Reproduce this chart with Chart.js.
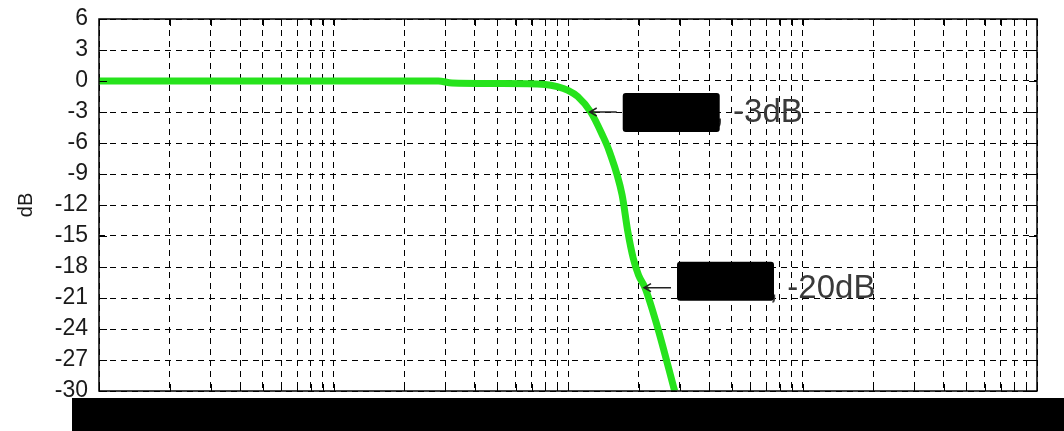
<!DOCTYPE html>
<html>
<head>
<meta charset="utf-8">
<script src="https://cdn.jsdelivr.net/npm/chart.js@4.4.1/dist/chart.umd.min.js"></script>
<style>
  html, body { margin: 0; padding: 0; background: #fff; }
  #wrap { width: 1064px; height: 431px; position: relative; }
</style>
</head>
<body>
<div id="wrap"><canvas id="c" width="1064" height="431"></canvas></div>
<script>
// Low-pass magnitude response: frequency (Hz) and gain (dB)
const freqHz = [10, 100, 280, 320, 500, 800, 900, 1000, 1100, 1250, 1400, 1500, 1700, 1800, 1900, 2000, 2130, 2400, 2850];
const gainDb = [0, 0, 0, -0.2, -0.25, -0.35, -0.55, -0.9, -1.5, -3, -5.2, -6.8, -11, -14.6, -17.2, -18.8, -20, -23.7, -30];

// Axis ticks
const yTicks = [6, 3, 0, -3, -6, -9, -12, -15, -18, -21, -24, -27, -30];
const freqGrid = [
  10, 20, 30, 40, 50, 60, 70, 80, 90,
  100, 200, 300, 400, 500, 600, 700, 800, 900,
  1000, 2000, 3000, 4000, 5000, 6000, 7000, 8000, 9000,
  10000, 20000, 30000, 40000, 50000, 60000, 70000, 80000, 90000,
  100000
];

// Marked points on the response
const noteFreq = [1250, 2130];
const noteDb = [-3, -20];
const noteText = [', -3dB', ', -20dB'];

const FONT = "'Liberation Sans', Arial, sans-serif";

const frame = {
  id: 'frame',
  afterDatasetsDraw(chart) {
    const { ctx, chartArea: a } = chart;
    const xs = chart.scales.x, ys = chart.scales.y;
    ctx.save();
    ctx.strokeStyle = '#000';
    ctx.lineWidth = 1;
    ctx.setLineDash([]);
    // inward tick marks on all four sides
    ctx.beginPath();
    freqGrid.forEach(v => {
      const px = Math.round(xs.getPixelForValue(v)) + 0.5;
      ctx.moveTo(px, a.top); ctx.lineTo(px, a.top + 7);
      ctx.moveTo(px, a.bottom); ctx.lineTo(px, a.bottom - 7);
    });
    yTicks.forEach(v => {
      const py = Math.round(ys.getPixelForValue(v)) + 0.5;
      ctx.moveTo(a.left, py); ctx.lineTo(a.left + 8, py);
      ctx.moveTo(a.right, py); ctx.lineTo(a.right - 8, py);
    });
    ctx.stroke();
    // axes box
    ctx.lineWidth = 1.5;
    ctx.strokeRect(a.left, a.top, a.right - a.left, a.bottom - a.top);
    ctx.restore();
  },
  afterDraw(chart) {
    const { ctx } = chart;
    const xs = chart.scales.x, ys = chart.scales.y;
    const boxDy = [-19, -26];
    ctx.save();
    noteFreq.forEach((f, i) => {
      const tx = xs.getPixelForValue(f) - 1;
      const ty = ys.getPixelForValue(noteDb[i]);
      // arrow pointing at the curve
      ctx.strokeStyle = '#222';
      ctx.lineWidth = 1.5;
      ctx.beginPath();
      ctx.moveTo(tx, ty); ctx.lineTo(tx + 27, ty);
      ctx.moveTo(tx + 7, ty - 4); ctx.lineTo(tx, ty); ctx.lineTo(tx + 7, ty + 4);
      ctx.stroke();
      // label
      ctx.fillStyle = '#3a3a3a';
      ctx.font = '33px ' + FONT;
      ctx.textBaseline = 'alphabetic';
      ctx.textAlign = 'left';
      ctx.fillText(noteText[i], tx + 125, ty + 10);
      // blacked-out frequency value
      ctx.fillStyle = '#000';
      ctx.beginPath();
      ctx.roundRect(tx + 33, ty + boxDy[i], 97, 39, 3);
      ctx.fill();
    });
    // blacked-out frequency axis
    ctx.fillStyle = '#000';
    ctx.fillRect(72, 398, 1064 - 72, 431 - 398);
    ctx.restore();
  }
};

new Chart(document.getElementById('c'), {
  type: 'line',
  data: {
    datasets: [{
      data: freqHz.map((f, i) => ({ x: f, y: gainDb[i] })),
      borderColor: '#26e31c',
      borderWidth: 7,
      pointRadius: 0,
      cubicInterpolationMode: 'monotone',
      fill: false,
      clip: 0
    }]
  },
  options: {
    responsive: false,
    animation: false,
    devicePixelRatio: 1,
    layout: { padding: { top: 19, right: 27, left: 0, bottom: 0 } },
    plugins: { legend: { display: false }, tooltip: { enabled: false } },
    scales: {
      x: {
        type: 'logarithmic',
        min: 10,
        max: 100000,
        afterBuildTicks: s => { s.ticks = freqGrid.map(v => ({ value: v })); },
        ticks: { display: false },
        grid: { color: '#000', lineWidth: 1, drawTicks: false },
        border: { display: false, dash: [6, 5] },
        afterFit: s => { s.height = 40; s.paddingLeft = 0; s.paddingRight = 0; }
      },
      y: {
        min: -30,
        max: 6,
        afterBuildTicks: s => { s.ticks = yTicks.map(v => ({ value: v })); },
        ticks: { font: { family: FONT, size: 23 }, color: '#1a1a1a', padding: 11 },
        grid: { color: '#000', lineWidth: 1, drawTicks: false },
        border: { display: false, dash: [6, 5] },
        title: { display: true, text: 'dB', color: '#1a1a1a', font: { family: FONT, size: 20 }, padding: { top: 14, bottom: 0 } },
        afterFit: s => { s.width = 99; s.paddingTop = 0; s.paddingBottom = 0; }
      }
    }
  },
  plugins: [frame]
});
</script>
</body>
</html>
